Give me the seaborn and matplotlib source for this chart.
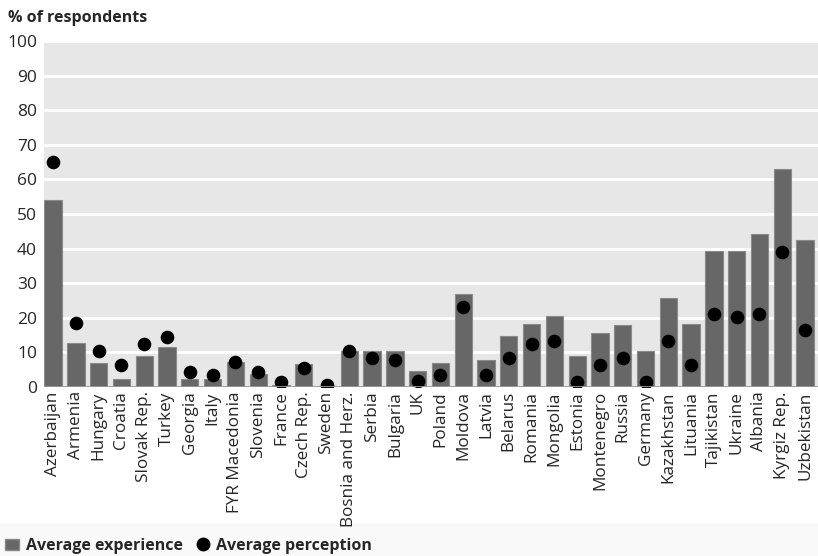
import matplotlib
matplotlib.use("Agg")
import matplotlib.pyplot as plt
from matplotlib import font_manager
from matplotlib.patches import Patch, Rectangle
from matplotlib.lines import Line2D
import seaborn as sns
import pandas as pd

countries = [
    "Azerbaijan", "Armenia", "Hungary", "Croatia", "Slovak Rep.", "Turkey",
    "Georgia", "Italy", "FYR Macedonia", "Slovenia", "France", "Czech Rep.",
    "Sweden", "Bosnia and Herz.", "Serbia", "Bulgaria", "UK", "Poland",
    "Moldova", "Latvia", "Belarus", "Romania", "Mongolia", "Estonia",
    "Montenegro", "Russia", "Germany", "Kazakhstan", "Lituania", "Tajikistan",
    "Ukraine", "Albania", "Kyrgiz Rep.", "Uzbekistan",
]
experience = [
    54.0, 12.7, 6.8, 2.3, 9.0, 11.7,
    2.3, 2.3, 7.3, 3.8, 0.5, 6.6,
    0.2, 10.5, 10.5, 10.5, 4.6, 6.8,
    27.0, 7.8, 14.7, 18.2, 20.5, 9.0,
    15.7, 17.8, 10.4, 25.7, 18.2, 39.3,
    39.3, 44.1, 63.0, 42.5,
]
perception = [
    64.9, 18.5, 10.4, 6.4, 12.4, 14.4,
    4.4, 3.4, 7.3, 4.4, 1.5, 5.5,
    0.6, 10.4, 8.4, 7.7, 1.7, 3.5,
    23.2, 3.5, 8.5, 12.3, 13.3, 1.5,
    6.5, 8.3, 1.5, 13.3, 6.5, 21.1,
    20.3, 21.1, 39.1, 16.5,
]
y_ticks = [0, 10, 20, 30, 40, 50, 60, 70, 80, 90, 100]

df = pd.DataFrame({"country": countries,
                   "experience": experience,
                   "perception": perception})

sns.set_theme(style="white")
installed = {f.name for f in font_manager.fontManager.ttflist}
family = [f for f in ["Liberation Sans Narrow", "Open Sans", "DejaVu Sans"] if f in installed]
plt.rcParams["font.family"] = family

BAR = "#676767"
BG = "#e7e7e7"

fig = plt.figure(figsize=(8.18, 5.56), dpi=100)
fig.patch.set_facecolor("white")
ax = fig.add_axes([44 / 818, (556 - 387) / 556, (818 - 44) / 818, (387 - 41) / 556])
ax.set_facecolor(BG)

# light band behind the legend
fig.patches.append(Rectangle((0, 0), 1, 33 / 556, transform=fig.transFigure,
                             facecolor="#f9f9f9", edgecolor="none", zorder=-1))

sns.barplot(data=df, x="country", y="experience", color=BAR, width=0.76,
            edgecolor="#8a8a8a", linewidth=0.8, saturation=1, ax=ax, zorder=3)
sns.stripplot(data=df, x="country", y="perception", color="black", jitter=False,
              size=9.8, linewidth=0, ax=ax, zorder=4)

ax.set_ylim(0, 100)
ax.set_xlim(-0.4, len(countries) - 0.43)
ax.set_yticks(y_ticks)
ax.set_yticklabels([str(v) for v in y_ticks], fontsize=12.5)
ax.yaxis.grid(True, color="white", linewidth=2, zorder=1)
ax.set_axisbelow(True)
for spine in ax.spines.values():
    spine.set_visible(False)
ax.axhline(0, color="#999999", linewidth=2, zorder=5)

ax.set_xticks(range(len(countries)))
ax.set_xticklabels(countries, rotation=90, fontsize=12.3, va="top", ha="center")
ax.tick_params(axis="x", length=0, pad=3)
ax.tick_params(axis="y", length=0, pad=5)
ax.set_xlabel("")
ax.set_ylabel("")

fig.text(8 / 818, 1 - 18 / 556, "% of respondents", fontsize=11.5,
         fontweight="bold", ha="left", va="center")

handles = [
    Patch(facecolor=BAR, edgecolor="#8a8a8a", label="Average experience"),
    Line2D([], [], marker="o", linestyle="none", color="black",
           markersize=9, label="Average perception"),
]
leg = fig.legend(handles=handles, loc="center left",
                 bbox_to_anchor=(0, 1 - 546 / 556), ncol=2, frameon=False,
                 prop={"weight": "bold", "size": 11.5}, handlelength=0.9,
                 handletextpad=0.4, columnspacing=0.8, borderaxespad=0,
                 borderpad=0.3)

fig.savefig("out.png", dpi=100, facecolor="white")
